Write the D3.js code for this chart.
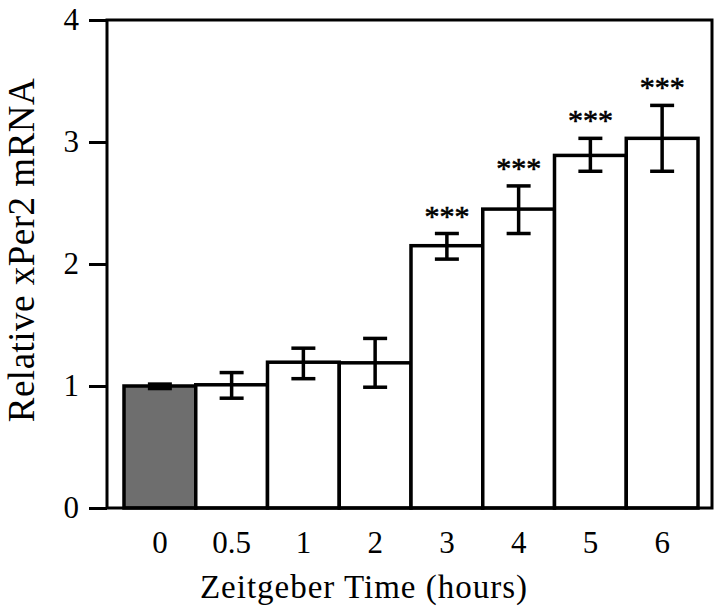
<!DOCTYPE html>
<html><head><meta charset="utf-8">
<script src="https://cdn.jsdelivr.net/npm/d3@7"></script>
<style>body{margin:0;background:#fff}</style>
</head><body>
<svg id="c" width="720" height="615"></svg>
<script>
const categories = ["0","0.5","1","2","3","4","5","6"];
const means = [1.00, 1.01, 1.195, 1.19, 2.15, 2.45, 2.89, 3.03];
const errLow = [0.965, 0.90, 1.06, 0.99, 2.04, 2.25, 2.76, 2.76];
const errHigh = [1.03, 1.11, 1.31, 1.39, 2.25, 2.64, 3.03, 3.30];
const signif = ["","","","","***","***","***","***"];
const yTicks = [0,1,2,3,4];

const svg = d3.select("#c");
const font = "Liberation Serif, Times New Roman, serif";
const L=107, R=712, T=20, B=508;
const x = d3.scaleBand().domain(categories).range([124, 698]).padding(0);
const y = d3.scaleLinear().domain([0,4]).range([B, T]);

// bars
svg.selectAll("rect.bar").data(categories).join("rect")
  .attr("x", d=>x(d)).attr("width", x.bandwidth())
  .attr("y", (d,i)=>y(means[i])).attr("height",(d,i)=>y(0)-y(means[i]))
  .attr("fill",(d,i)=>i===0?"#6e6e6e":"#fff")
  .attr("stroke","#000").attr("stroke-width",3.5);

// error bars
const eb = svg.append("g").attr("stroke","#000").attr("stroke-width",3.5);
categories.forEach((c,i)=>{
  const cx = x(c)+x.bandwidth()/2;
  if(i===0){
    svg.append("rect").attr("x",cx-12).attr("y",y(errHigh[i])).attr("width",24)
      .attr("height",y(errLow[i])-y(errHigh[i])).attr("fill","#000");
    return;
  }
  eb.append("line").attr("x1",cx).attr("x2",cx).attr("y1",y(errLow[i])).attr("y2",y(errHigh[i]));
  eb.append("line").attr("x1",cx-12).attr("x2",cx+12).attr("y1",y(errLow[i])).attr("y2",y(errLow[i]));
  eb.append("line").attr("x1",cx-12).attr("x2",cx+12).attr("y1",y(errHigh[i])).attr("y2",y(errHigh[i]));
  if(signif[i]) svg.append("text").attr("x",cx).attr("y",y(errHigh[i])-8)
    .attr("text-anchor","middle").attr("font-family",font).attr("font-size",30)
    .attr("stroke","#000").attr("stroke-width",0.6).text(signif[i]);
});

// frame
svg.append("rect").attr("x",L).attr("y",T).attr("width",R-L).attr("height",B-T)
  .attr("fill","none").attr("stroke","#000").attr("stroke-width",3);

// y axis
const yAxis = svg.append("g").attr("transform",`translate(${L},0)`)
  .call(d3.axisLeft(y).tickValues(yTicks).tickFormat(d3.format("d")).tickSize(18).tickPadding(10));
yAxis.select(".domain").remove();
yAxis.selectAll("line").attr("stroke-width",3);
yAxis.selectAll("text").attr("font-family",font).attr("font-size",31).attr("fill","#000");

// x axis labels
const xAxis = svg.append("g").attr("transform",`translate(0,${B})`)
  .call(d3.axisBottom(x).tickSize(0).tickPadding(23));
xAxis.select(".domain").remove();
xAxis.selectAll("text").attr("font-family",font).attr("font-size",31).attr("fill","#000");

svg.append("text").attr("x",364).attr("y",598).attr("text-anchor","middle")
  .attr("font-family",font).attr("font-size",33).attr("letter-spacing",1).text("Zeitgeber Time (hours)");
svg.append("text").attr("transform","translate(34,250) rotate(-90)").attr("text-anchor","middle")
  .attr("font-family",font).attr("font-size",37).attr("letter-spacing",0.5).text("Relative xPer2 mRNA");
</script>
</body></html>
